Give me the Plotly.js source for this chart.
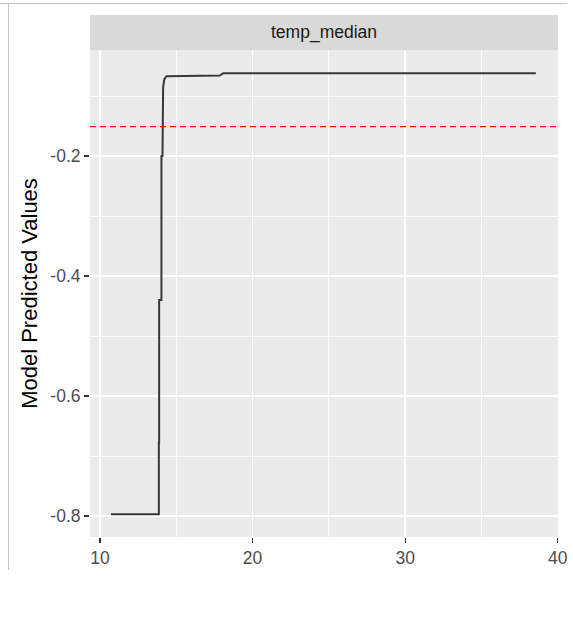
<!DOCTYPE html>
<html>
<head>
<meta charset="utf-8">
<script src="https://cdn.plot.ly/plotly-3.0.1.min.js"></script>
<style>
  html, body { margin: 0; padding: 0; background: #ffffff; }
  #wrap { position: relative; width: 573px; height: 624px; overflow: hidden; }
  #chart { position: absolute; left: 0; top: 0; width: 573px; height: 624px; }
  #hline { position: absolute; left: 0; top: 3px; width: 567px; height: 1px; background: #c4c4c4; }
  #vline { position: absolute; left: 8px; top: 3px; width: 1px; height: 567px; background: #c4c4c4; }
</style>
</head>
<body>
<div id="wrap">
  <div id="chart"></div>
  <div id="hline"></div>
  <div id="vline"></div>
</div>
<script>
// ---- data ----
const tempMedian = [10.72, 13.86, 13.86, 13.88, 13.88, 14.03, 14.03, 14.10, 14.14, 14.22, 14.36, 17.85, 18.08, 38.56];
const predicted  = [-0.797, -0.797, -0.678, -0.678, -0.440, -0.440, -0.200, -0.200, -0.085, -0.072, -0.067, -0.066, -0.062, -0.062];
const referenceLine = [-0.151];
const stripLabel = "temp_median";
const xTickVals = [10, 20, 30, 40];
const xTickText = ["10", "20", "30", "40"];
const yTickVals = [-0.8, -0.6, -0.4, -0.2];
const yTickText = ["-0.8", "-0.6", "-0.4", "-0.2"];
const yTitle = "Model Predicted Values";

const FONT = "Liberation Sans, Arial, sans-serif";

const traces = [{
  x: tempMedian,
  y: predicted,
  type: "scatter",
  mode: "lines",
  line: { color: "#383838", width: 2, shape: "linear" },
  hoverinfo: "skip"
}];

const layout = {
  width: 573,
  height: 624,
  margin: { l: 90, r: 15, t: 50, b: 87 },
  paper_bgcolor: "rgba(0,0,0,0)",
  plot_bgcolor: "#EBEBEB",
  showlegend: false,
  font: { family: FONT },
  xaxis: {
    range: [9.35, 40.01],
    tickmode: "array",
    tickvals: xTickVals,
    ticktext: xTickText,
    ticks: "outside",
    ticklen: 5,
    tickwidth: 1.2,
    tickcolor: "#333333",
    tickfont: { family: FONT, size: 17.5, color: "#4D4D4D" },
    showgrid: true,
    gridcolor: "#FFFFFF",
    gridwidth: 1.8,
    minor: { tickmode: "array", tickvals: [15, 25, 35], showgrid: true, gridcolor: "#FFFFFF", gridwidth: 0.9, ticks: "" },
    zeroline: false,
    showline: false,
    fixedrange: true
  },
  yaxis: {
    range: [-0.835, -0.0233],
    tickmode: "array",
    tickvals: yTickVals,
    ticktext: yTickText,
    ticks: "outside",
    ticklen: 5,
    tickwidth: 1.2,
    tickcolor: "#333333",
    tickfont: { family: FONT, size: 17.5, color: "#4D4D4D" },
    showgrid: true,
    gridcolor: "#FFFFFF",
    gridwidth: 1.8,
    minor: { tickmode: "array", tickvals: [-0.7, -0.5, -0.3, -0.1], showgrid: true, gridcolor: "#FFFFFF", gridwidth: 0.9, ticks: "" },
    zeroline: false,
    showline: false,
    fixedrange: true,
    title: { text: yTitle, font: { family: FONT, size: 22, color: "#000000" }, standoff: 6 }
  },
  shapes: [
    {
      type: "rect", xref: "paper", yref: "paper",
      x0: 0, x1: 1, y0: 1, y1: 1 + 35 / 487,
      fillcolor: "#D9D9D9", line: { width: 0 }, layer: "below"
    },
    {
      type: "line", xref: "paper", yref: "y",
      x0: 0, x1: 1, y0: referenceLine[0], y1: referenceLine[0],
      line: { color: "#FF0000", width: 1.2, dash: "6px,4px" }
    }
  ],
  annotations: [
    {
      text: stripLabel, xref: "paper", yref: "paper",
      x: 0.5, y: 1 + 17.5 / 487, xanchor: "center", yanchor: "middle",
      showarrow: false, font: { family: FONT, size: 17.5, color: "#1A1A1A" }
    }
  ]
};

Plotly.newPlot("chart", traces, layout, { displayModeBar: false, staticPlot: true });
</script>
</body>
</html>
